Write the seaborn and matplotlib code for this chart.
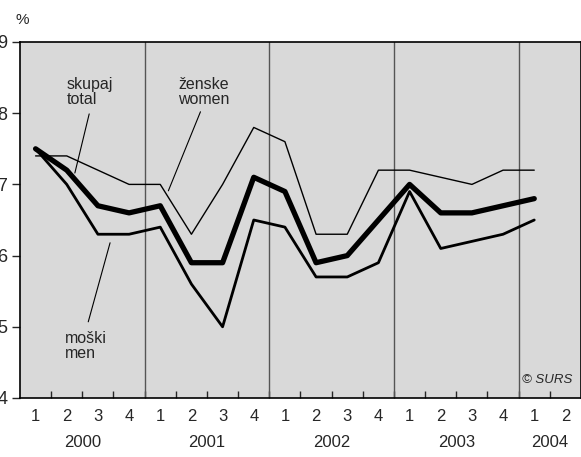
import matplotlib
matplotlib.use("Agg")
import matplotlib.pyplot as plt
import pandas as pd
import seaborn as sns

# quarterly data, Q1 2000 .. Q1 2004
quarters = ["1", "2", "3", "4"] * 4 + ["1", "2"]
years = ["2000", "2001", "2002", "2003", "2004"]
total = [7.5, 7.2, 6.7, 6.6, 6.7, 5.9, 5.9, 7.1, 6.9, 5.9, 6.0, 6.5, 7.0, 6.6, 6.6, 6.7, 6.8]
women = [7.4, 7.4, 7.2, 7.0, 7.0, 6.3, 7.0, 7.8, 7.6, 6.3, 6.3, 7.2, 7.2, 7.1, 7.0, 7.2, 7.2]
men = [7.5, 7.0, 6.3, 6.3, 6.4, 5.6, 5.0, 6.5, 6.4, 5.7, 5.7, 5.9, 6.9, 6.1, 6.2, 6.3, 6.5]

df = pd.DataFrame({"idx": range(len(total)), "total": total, "women": women, "men": men})

sns.set_style("white")
plt.rcParams["font.family"] = ["Liberation Sans", "DejaVu Sans"]

fig = plt.figure(figsize=(5.81, 4.57), dpi=100)
ax = fig.add_axes([20 / 581, 1 - 398 / 457, 561 / 581, 356 / 457])
ax.set_facecolor("#d9d9d9")

for x in [3.5, 7.5, 11.5, 15.5]:
    ax.axvline(x, color="#555555", lw=1.0, zorder=1)

sns.lineplot(data=df, x="idx", y="women", ax=ax, color="black", lw=1.0, zorder=3)
sns.lineplot(data=df, x="idx", y="men", ax=ax, color="black", lw=2.0, zorder=3)
sns.lineplot(data=df, x="idx", y="total", ax=ax, color="black", lw=3.8, zorder=4)

ax.set_xlim(-0.5, 17.5)
ax.set_ylim(4, 9)
ax.set_yticks([4, 5, 6, 7, 8, 9])
ax.set_yticklabels(["4", "5", "6", "7", "8", "9"], fontsize=13)
ax.tick_params(axis="y", direction="out", length=6, width=1, pad=3, left=True)

ax.set_xticks([i + 0.5 for i in range(17)])
ax.set_xticklabels([])
ax.tick_params(axis="x", direction="in", length=5, width=1, bottom=True)
ax.set_xticks(range(18), minor=True)
ax.set_xticklabels(quarters, minor=True, fontsize=12)
ax.tick_params(axis="x", which="minor", length=0, pad=8)

for i, yr in enumerate(years):
    xc = 4 * i + 1.5 if i < 4 else 16.5
    ax.text(xc, -0.103, yr, transform=ax.get_xaxis_transform(), ha="center",
            va="top", fontsize=12)

ax.set_xlabel("")
ax.set_ylabel("")
for s in ax.spines.values():
    s.set_color("black")
    s.set_linewidth(1.2)

fig.text(15 / 581, 1 - 20 / 457, "%", fontsize=11, va="center")

# annotations
lab = dict(fontsize=11.5, ha="left", va="center", linespacing=0.95)
ax.text(1.0, 8.3, "skupaj\ntotal", **lab)
ax.plot([1.72, 1.26], [7.99, 7.16], color="black", lw=0.8)
ax.text(4.58, 8.3, "ženske\nwomen", **lab)
ax.plot([5.29, 4.26], [8.02, 6.91], color="black", lw=0.8)
ax.text(0.95, 4.73, "moški\nmen", **lab)
ax.plot([2.39, 1.69], [6.18, 5.07], color="black", lw=0.8)
ax.text(0.985, 0.05, "© SURS", transform=ax.transAxes, fontsize=9.5, style="italic",
        ha="right", va="center")

fig.savefig("out.png", dpi=100)
